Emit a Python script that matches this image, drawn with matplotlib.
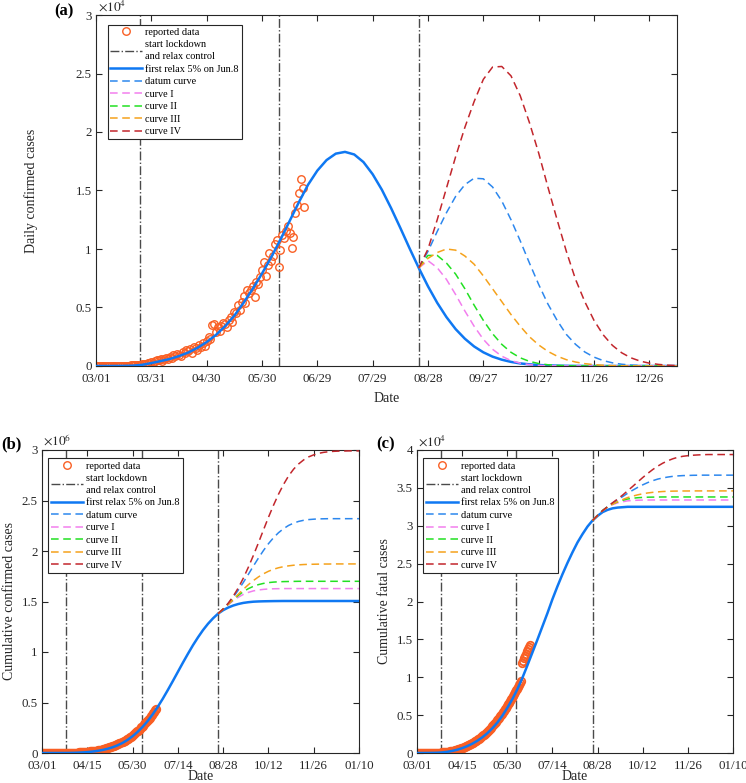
import numpy as np
import matplotlib.pyplot as plt
from matplotlib.lines import Line2D
from matplotlib.ticker import FuncFormatter

plt.rcParams['font.family'] = ['Liberation Serif', 'DejaVu Serif']
plt.rcParams['mathtext.fontset'] = 'stix'

# ---- data (days counted from 03/01) ----
day_obs = np.arange(0, 114)
daily_obs = [0, 0, 0, 2, 0, 3, 5, 2, 8, 6, 10, 12, 15, 20, 18, 25, 30, 28, 40, 45, 50, 60, 70, 90,
             120, 150, 180, 160, 230, 260, 310, 280, 420, 520,
             480, 560, 450, 620, 700, 610, 780, 650, 900, 820,
             1050, 980, 850, 1200, 1100, 1350, 1250, 1450, 1150, 1600,
             1500, 1400, 1800, 1650, 2000, 1750, 2150, 2500, 2300, 3500,
             3600, 2900, 3300, 3000, 3400, 3700, 3600, 3300, 3900, 4200,
             3800, 4600, 4500, 5200, 4800, 5500, 6000, 5400, 6500, 6200,
             6500, 6800, 5900, 7200, 7000, 7600, 8200, 8900, 7700, 8600,
             9700, 9000, 9400, 10400, 10800, 8500, 9900, 11200, 10900, 11500,
             12000, 11400, 10100, 11000, 13100, 13800, 14800, 16000, 15200, 13600]
cum_obs = [0, 0, 0, 2, 2, 5, 10, 12, 20, 26, 36, 48, 63, 83, 101, 126, 156, 184, 224, 269, 319, 379, 449, 539,
           659, 809, 989, 1149, 1379, 1639, 1949, 2229, 2649, 3169,
           3649, 4209, 4659, 5279, 5979, 6589, 7369, 8019, 8919, 9739,
           10789, 11769, 12619, 13819, 14919, 16269, 17519, 18969, 20119, 21719,
           23219, 24619, 26419, 28069, 30069, 31819, 33969, 36469, 38769, 42269,
           45869, 48769, 52069, 55069, 58469, 62169, 65769, 69069, 72969, 77169,
           80969, 85569, 90069, 95269, 100069, 105569, 111569, 116969, 123469, 129669,
           136169, 142969, 148869, 156069, 163069, 170669, 178869, 187769, 195469, 204069,
           213769, 222769, 232169, 242569, 253369, 261869, 271769, 282969, 293869, 305369,
           317369, 328769, 338869, 349869, 362969, 376769, 391569, 407569, 422769, 436369]
fatal_obs = [0, 0, 0, 0, 0, 0, 0, 1, 1, 2,
             3, 4, 5, 7, 9, 11, 14, 17, 21, 25,
             30, 36, 43, 51, 60, 70, 82, 95, 110, 127,
             145, 165, 187, 211, 237, 265, 295, 327, 361, 397,
             435, 475, 517, 562, 609, 658, 710, 764, 820, 879,
             940, 1004, 1070, 1139, 1211, 1286, 1364, 1445, 1529, 1616,
             1706, 1799, 1896, 1996, 2100, 2208, 2320, 2436, 2556, 2680,
             2808, 2940, 3076, 3216, 3360, 3508, 3660, 3816, 3976, 4140,
             4308, 4480, 4656, 4836, 5020, 5208, 5400, 5596, 5796, 6000,
             6208, 6420, 6636, 6856, 7080, 7308, 7540, 7776, 8016, 8260,
             8508, 8760, 9016, 9276, 9540,
             11900, 12200, 12500, 12800, 13100, 13400, 13700, 14000, 14300]

day_fit = np.arange(0, 316, 5)
daily_fit = [0, 0, 5, 10, 30, 100, 250, 420, 600, 850, 1150, 1550, 2050, 2650, 3400, 4300,
             5400, 6600, 7900, 9300, 10800, 12400, 14000, 15500, 16700, 17600, 18150, 18300,
             18080, 17430, 16390, 15060, 13490, 11800, 10060, 8380, 6810, 5400, 4180, 3150,
             2330, 1670, 1170, 800, 540, 350, 220, 140, 84, 50, 29, 16, 9, 5, 2, 1,
             0, 0, 0, 0, 0, 0, 0, 0]
cum_fit = [0, 0, 0, 50, 150, 450, 1300, 2900, 5400, 9000, 14000, 20700, 29500, 41200, 56300, 75500,
           99700, 129700, 166000, 209000, 259000, 317000, 383000, 457000, 537000, 623000, 712000, 803000,
           894000, 982000, 1067000, 1145000, 1217000, 1280000, 1334000, 1380000, 1414000, 1440000,
           1460000, 1475000, 1486000, 1493000, 1498000, 1500500, 1502000, 1503000, 1504000, 1504500,
           1505000, 1505000, 1505000, 1505000, 1505000, 1505000, 1505000, 1505000,
           1505000, 1505000, 1505000, 1505000, 1505000, 1505000, 1505000, 1505000]
fatal_fit = [0, 0, 5, 15, 30, 70, 150, 270, 430, 640, 900, 1220, 1600, 2060, 2600, 3250,
             4000, 4900, 5950, 7100, 8400, 9900, 11550, 13250, 14950, 16700, 18450, 20300,
             22000, 23600, 25100, 26500, 27800, 28900, 29900, 30700, 31300, 31800, 32100, 32300,
             32400, 32450, 32500, 32500, 32500, 32500, 32500, 32500, 32500, 32500, 32500, 32500,
             32500, 32500, 32500, 32500, 32500, 32500, 32500, 32500, 32500, 32500, 32500, 32500]

# scenarios after the second relaxation (day 175 onwards)
day_scn = np.arange(175, 316, 5)
daily_datum = [8380, 9800, 11500, 13100, 14500, 15500, 16050, 16000, 15300, 14100, 12500, 10700, 8800, 6970,
               5300, 3900, 2700, 1850, 1200, 760, 460, 270, 150, 80, 40, 20, 9, 4, 0]
daily_c1 = [8380, 9000, 8400, 7400, 6100, 4700, 3400, 2280, 1430, 840, 460, 240, 115, 52, 22, 9, 3, 1,
            0, 0, 0, 0, 0, 0, 0, 0, 0, 0, 0]
daily_c2 = [8380, 9450, 9450, 8800, 7850, 6600, 5200, 3900, 2760, 1850, 1170, 700, 395, 210, 105, 50, 23,
            10, 4, 2, 0, 0, 0, 0, 0, 0, 0, 0, 0]
daily_c3 = [8380, 9200, 9700, 10000, 9900, 9400, 8700, 7700, 6600, 5500, 4400, 3400, 2500, 1800, 1250,
            840, 540, 340, 200, 117, 65, 35, 18, 9, 4, 2, 1, 0, 0]
daily_c4 = [8380, 10000, 12500, 15200, 17900, 20400, 22600, 24500, 25550, 25600, 24800, 23100, 20800,
            18200, 15300, 12500, 9800, 7400, 5500, 3900, 2660, 1760, 1130, 700, 420, 240, 135, 72, 38]

cum_datum = [1380000, 1426000, 1480000, 1542000, 1612000, 1688000, 1768000, 1850000, 1929000, 2004000,
             2072000, 2131000, 2181000, 2221000, 2253000, 2276000, 2293000, 2304000, 2311000, 2315000,
             2318000, 2319000, 2320000, 2320000, 2320000, 2320000, 2320000, 2320000, 2320000]
cum_c1 = [1380000, 1424000, 1468000, 1508000, 1542000, 1570000, 1590000, 1605000, 1614000, 1620000,
          1624000, 1626000, 1627000, 1628000, 1628000, 1628000, 1628000, 1628000, 1628000, 1628000,
          1628000, 1628000, 1628000, 1628000, 1628000, 1628000, 1628000, 1628000, 1628000]
cum_c2 = [1380000, 1425000, 1472000, 1518000, 1560000, 1597000, 1627000, 1650000, 1667000, 1679000,
          1687000, 1692000, 1695000, 1697000, 1698000, 1699000, 1700000, 1700000, 1700000, 1700000,
          1700000, 1700000, 1700000, 1700000, 1700000, 1700000, 1700000, 1700000, 1700000]
cum_c3 = [1380000, 1424000, 1472000, 1521000, 1571000, 1620000, 1666000, 1707000, 1743000, 1774000,
          1799000, 1819000, 1834000, 1845000, 1853000, 1859000, 1863000, 1866000, 1868000, 1869000,
          1870000, 1871000, 1871000, 1872000, 1872000, 1872000, 1872000, 1872000, 1872000]
cum_c4 = [1380000, 1426000, 1482000, 1552000, 1634000, 1730000, 1838000, 1955000, 2079000, 2207000,
          2333000, 2452000, 2562000, 2659000, 2743000, 2810000, 2862000, 2902000, 2932000, 2952000,
          2967000, 2977000, 2983000, 2987000, 2989000, 2990000, 2991000, 2991000, 2991000]

fatal_datum = [30700, 31360, 32000, 32520, 33000, 33430, 33850, 34290, 34690, 35060, 35400, 35700,
               35950, 36160, 36310, 36430, 36520, 36580, 36620, 36640, 36660, 36670,
               36680, 36680, 36680, 36680, 36680, 36680, 36680]
fatal_c1 = [30700, 31370, 32000, 32450, 32790, 33020, 33170, 33290, 33340, 33370, 33390, 33395,
            33400, 33400, 33400, 33400, 33400, 33400, 33400, 33400, 33400, 33400, 33400, 33400,
            33400, 33400, 33400, 33400, 33400]
fatal_c2 = [30700, 31370, 32020, 32500, 32880, 33150, 33360, 33530, 33630, 33700, 33740, 33770,
            33780, 33790, 33800, 33800, 33800, 33800, 33800, 33800, 33800, 33800, 33800, 33800,
            33800, 33800, 33800, 33800, 33800]
fatal_c3 = [30700, 31360, 31980, 32460, 32860, 33180, 33460, 33720, 33910, 34080, 34220, 34330,
            34410, 34470, 34520, 34550, 34570, 34580, 34590, 34590, 34600, 34600, 34600, 34600,
            34600, 34600, 34600, 34600, 34600]
fatal_c4 = [30700, 31360, 32000, 32530, 33040, 33530, 34050, 34620, 35190, 35780, 36360, 36910,
            37420, 37870, 38260, 38580, 38840, 39040, 39170, 39250, 39310, 39350, 39380, 39400,
            39400, 39400, 39400, 39400, 39400]

control_days = [24, 99, 175]

ticks_a = [0, 30, 60, 90, 120, 150, 180, 210, 240, 270, 300]
labels_a = ['03/01', '03/31', '04/30', '05/30', '06/29', '07/29', '08/28', '09/27', '10/27', '11/26', '12/26']
ticks_bc = [0, 45, 90, 135, 180, 225, 270, 315]
labels_bc = ['03/01', '04/15', '05/30', '07/14', '08/28', '10/12', '11/26', '01/10']

legend_labels = ['reported data', 'start lockdown\nand relax control', 'first relax 5% on Jun.8',
                 'datum curve', 'curve I', 'curve II', 'curve III', 'curve IV']

c_obs = '#F95F24'
c_fit = '#0F78F2'
scn_colors = ['#2C87EE', '#F27FEE', '#22E022', '#F5A21C', '#C2262C']
c_vl = '#4A4A4A'
c_ax = '#262626'

fig = plt.figure(figsize=(7.46, 7.83), dpi=100)
ax_a = fig.add_axes([96 / 746, 1 - 366 / 783, 581 / 746, 351 / 783])
ax_b = fig.add_axes([42 / 746, 1 - 753 / 783, 317 / 746, 303 / 783])
ax_c = fig.add_axes([417 / 746, 1 - 753 / 783, 316 / 746, 303 / 783])


def draw(ax, x_obs, y_obs, y_fit, scns, ymax, ystep, expo, ticks, labels, ylabel,
         ylab_x, xlab_y, mew):
    ax.plot(x_obs, y_obs, 'o', ms=5.4, mfc='none', mec=c_obs, mew=mew, zorder=2)
    for d in control_days:
        ax.axvline(d, color=c_vl, lw=1.0, ls='-.', zorder=1)
    ax.plot(day_fit, y_fit, color=c_fit, lw=1.8, zorder=3)
    for ys, col in zip(scns, scn_colors):
        ax.plot(day_scn, ys, color=col, lw=1.1, ls=(0, (5, 3)), zorder=3)
    ax.set_xlim(0, 315)
    ax.set_ylim(0, ymax)
    ax.set_xticks(ticks)
    ax.set_xticklabels(labels)
    ax.set_yticks(np.arange(0, ymax + 1, ystep))
    ax.yaxis.set_major_formatter(FuncFormatter(lambda v, p: f'{v / 10 ** expo:g}'))
    ax.tick_params(direction='in', top=True, right=True, length=4, width=0.8,
                   labelsize=9.3, colors=c_ax)
    ax.tick_params(axis='x', pad=5)
    ax.tick_params(axis='y', pad=3)
    for s in ax.spines.values():
        s.set_color(c_ax)
        s.set_linewidth(0.8)
    ax.set_xlabel('Date', fontsize=10, color=c_ax)
    ax.set_ylabel(ylabel, fontsize=10, color=c_ax)
    ax.yaxis.set_label_coords(ylab_x, 0.5)
    ax.xaxis.set_label_coords(0.5, xlab_y)
    ax.text(0.003, 1.004, r'$\times10^{%d}$' % expo, transform=ax.transAxes,
            ha='left', va='bottom', fontsize=9.5, color=c_ax)
    handles = [Line2D([], [], ls='none', marker='o', ms=5.4, mfc='none', mec=c_obs, mew=1.0),
               Line2D([], [], color=c_vl, lw=1.0, ls='-.'),
               Line2D([], [], color=c_fit, lw=1.8)]
    handles += [Line2D([], [], color=col, lw=1.1, ls=(0, (5, 3))) for col in scn_colors]
    leg = ax.legend(handles, legend_labels, loc='upper left', bbox_to_anchor=(0.02, 0.972),
                    fontsize=7.4, frameon=True, fancybox=False, edgecolor=c_ax, framealpha=1,
                    handlelength=3.1, handletextpad=0.3, labelspacing=0.32, borderpad=0.28,
                    borderaxespad=0)
    leg.get_frame().set_linewidth(0.8)
    leg.get_texts()[1].set_linespacing(1.45)


draw(ax_a, day_obs, daily_obs, daily_fit,
     [daily_datum, daily_c1, daily_c2, daily_c3, daily_c4],
     30000, 5000, 4, ticks_a, labels_a, 'Daily confirmed cases', -0.1, -0.074, 1.0)
draw(ax_b, day_obs, cum_obs, cum_fit,
     [cum_datum, cum_c1, cum_c2, cum_c3, cum_c4],
     3000000, 500000, 6, ticks_bc, labels_bc, 'Cumulative confirmed cases', -0.082, -0.057, 1.3)
draw(ax_c, day_obs, fatal_obs, fatal_fit,
     [fatal_datum, fatal_c1, fatal_c2, fatal_c3, fatal_c4],
     40000, 5000, 4, ticks_bc, labels_bc, 'Cumulative fatal cases', -0.082, -0.057, 1.3)

fig.text(64 / 746, 1 - 11 / 783, '(a)', ha='center', va='center', fontsize=12, fontweight='bold')
fig.text(11 / 746, 1 - 444 / 783, '(b)', ha='center', va='center', fontsize=12, fontweight='bold')
fig.text(386 / 746, 1 - 444 / 783, '(c)', ha='center', va='center', fontsize=12, fontweight='bold')

fig.savefig('out.png', dpi=100)
